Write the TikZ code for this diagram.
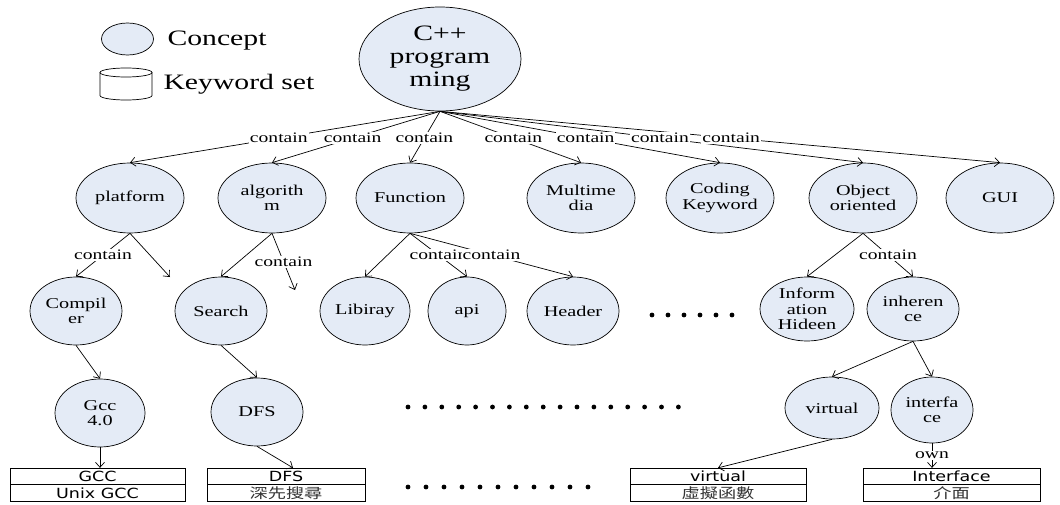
\documentclass[tikz,border=0pt]{standalone}
\usepackage{fontspec}
\setmainfont{Liberation Serif}[FakeStretch=1.35]
\newfontfamily\kwfont{DejaVu Sans}[FakeStretch=1.25]
\newfontfamily\cjkfont{Noto Sans CJK TC}[FakeStretch=1.3]
\usetikzlibrary{shapes.geometric,arrows.meta,calc}
\definecolor{conceptfill}{RGB}{228,235,246}

\begin{document}
\begin{tikzpicture}[x=1pt,y=-1pt,
  concept/.style={ellipse, draw, fill=conceptfill, line width=0.7pt, inner sep=0pt,
    align=center, font=\fontsize{15}{15.5}\selectfont},
  rootconcept/.style={concept, minimum width=162pt, minimum height=104pt,
    font=\fontsize{22}{23}\selectfont},
  rowone/.style={concept, minimum width=108pt, minimum height=70pt},
  rel/.style={draw, line width=0.7pt, -{Straight Barb[length=5pt,width=9pt]}},
  lbl/.style={fill=white, inner sep=1pt, font=\fontsize{14.5}{15.5}\selectfont},
  kw/.style={rectangle, draw, fill=white, line width=0.8pt, inner sep=0pt,
    minimum height=16.5pt, font=\kwfont\fontsize{14}{15}\selectfont},
  kwzh/.style={kw, font=\cjkfont\fontsize{14}{15}\selectfont, text=black!80},
  legendtext/.style={anchor=west, font=\fontsize{22}{24}\selectfont},
  dotmark/.style={fill=black}
]
\useasboundingbox (0,0) rectangle (1060,505);

% legend
\node[concept, minimum width=52pt, minimum height=32pt] (legc) at (127.5,39) {};
\node[legendtext] (legct) at (164,41) {Concept};
\draw[line width=0.7pt, fill=white] (100,72.5) -- (100,95.5)
  arc[start angle=180, end angle=0, x radius=26, y radius=4.5] -- (152,72.5);
\draw[line width=0.7pt] (126,72.5) ellipse [x radius=26, y radius=4.5];
\node[legendtext] (legkt) at (160,84) {Keyword set};

% concepts
\node[rootconcept] (root) at (440,59) {C++\\program\\ming};

\node[rowone] (platform)   at (130,198)  {platform};
\node[rowone] (algorithm)  at (272,198)  {algorith\\m};
\node[rowone] (function)   at (410,198)  {Function};
\node[rowone] (multimedia) at (581,198)  {Multime\\dia};
\node[rowone] (coding)     at (720,198)  {Coding\\Keyword};
\node[rowone] (object)     at (863,198)  {Object\\oriented};
\node[rowone] (gui)        at (1000,198) {GUI};

\node[concept, minimum width=92pt, minimum height=68pt] (compiler) at (76,311)  {Compil\\er};
\node[concept, minimum width=92pt, minimum height=68pt] (search)   at (221,311) {Search};
\node[concept, minimum width=90pt, minimum height=68pt] (libiray)  at (365,311) {Libiray};
\node[concept, minimum width=78pt, minimum height=68pt] (api)      at (467,311) {api};
\node[concept, minimum width=92pt, minimum height=68pt] (header)   at (573,311) {Header};
\node[concept, minimum width=94pt, minimum height=64pt] (info)     at (807,309) {Inform\\ation\\Hideen};
\node[concept, minimum width=92pt, minimum height=64pt] (inherence) at (913,309) {inheren\\ce};

\node[concept, minimum width=90pt, minimum height=68pt] (gcc)       at (100,413) {Gcc\\4.0};
\node[concept, minimum width=92pt, minimum height=68pt] (dfs)       at (257,412) {DFS};
\node[concept, minimum width=94pt, minimum height=62pt] (virtual)   at (832,408) {virtual};
\node[concept, minimum width=82pt, minimum height=66pt] (interface) at (932,410) {interfa\\ce};

% keyword sets
\node[kw,   minimum width=175pt] (gccbox)  at (97.5,476.5) {GCC};
\node[kw,   minimum width=175pt] (gccset)  at (97.5,493)   {Unix GCC};
\node[kw,   minimum width=158pt] (dfsbox)  at (286,476.5)  {DFS};
\node[kwzh, minimum width=158pt] (dfsset)  at (286,493)    {深先搜尋};
\node[kw,   minimum width=176pt] (virtbox) at (718,476.5)  {virtual};
\node[kwzh, minimum width=176pt] (virtset) at (718,493)    {虛擬函數};
\node[kw,   minimum width=177pt] (intfbox) at (951.5,476.5) {Interface};
\node[kwzh, minimum width=177pt] (intfset) at (951.5,493)  {介面};

% open ends
\coordinate (platformmore) at (170,277);
\coordinate (algomore) at (295,290);

% relations
\foreach \child in {platform,algorithm,function,multimedia,coding,object,gui}
  \draw[rel] (root.south) -- (\child.north);
\draw[rel] (platform.south) -- (compiler.north);
\draw[rel] (platform.south) -- (platformmore);
\draw[rel] (algorithm.south) -- (search.north);
\draw[rel] (algorithm.south) -- (algomore);
\draw[rel] (function.south) -- (libiray.north);
\draw[rel] (function.south) -- (api.north);
\draw[rel] (function.south) -- (header.north);
\draw[rel] (object.south) -- (info.north);
\draw[rel] (object.south) -- (inherence.north);
\draw[rel] (compiler.south) -- (gcc.north);
\draw[rel] (search.south) -- (dfs.north);
\draw[rel] (inherence.south) -- (virtual.north);
\draw[rel] (inherence.south) -- (interface.north);
\draw[rel] (gcc.south) -- (gcc.south |- gccbox.north);
\draw[rel] (dfs.south) -- ([xshift=7pt]dfsbox.north);
\draw[rel] (virtual.south) -- (virtbox.north);
\draw[rel] (interface.south) -- (interface.south |- intfbox.north);

% relation labels
\foreach \child in {platform,algorithm,function,multimedia,coding,object,gui}
  \path (root.south) -- (\child.north) node[lbl, pos=.52] {contain};
\path (platform.south) -- (compiler.north) node[lbl, pos=.5] {contain};
\path (algorithm.south) -- (algomore) node[lbl, pos=.5] {contain};
\path (function.south) -- (api.north) node[lbl, pos=.5] {contain};
\path (function.south) -- (header.north) node[lbl, pos=.5] {contain};
\path (object.south) -- (inherence.north) node[lbl, pos=.5] {contain};
\path (interface.south) -- (interface.south |- intfbox.north) node[lbl, pos=.5] {own};

% elided parts
\foreach \i in {0,...,5}  \fill[dotmark] (652+16*\i,315) circle (2.4pt);
\foreach \i in {0,...,16} \fill[dotmark] (408+16.9*\i,407) circle (2.4pt);
\foreach \i in {0,...,10} \fill[dotmark] (408+18*\i,487) circle (2.4pt);
\end{tikzpicture}
\end{document}
